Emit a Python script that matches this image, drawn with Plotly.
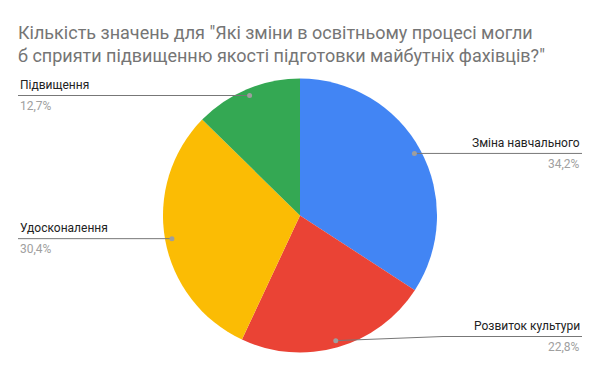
import math
import plotly.graph_objects as go

# ---- data ----
labels = ["Зміна навчального", "Розвиток культури", "Удосконалення", "Підвищення"]
counts = [27, 18, 24, 10]
colors = ["#4285F4", "#EA4335", "#FBBC04", "#34A853"]
title_text = ('Кількість значень для "Які зміни в освітньому процесі могли<br>'
              'б сприяти підвищенню якості підготовки майбутніх фахівців?"')

# ---- layout geometry (screen pixels) ----
W, H = 600, 371
OFF = 8  # page body margin
cx, cy, r = 300, 215.5, 137
dot_r = 0.95 * r
left_x, right_x = 18, 582
elbows = {1: (443, 336.5)}  # slanted leader for the red slice

total = sum(counts)
pct = [f"{100 * c / total:.1f}".replace(".", ",") + "%" for c in counts]

def px(x):
    return (x - OFF) / W

def py(y):
    return 1 - (y - OFF) / H

fig = go.Figure(go.Pie(
    labels=labels, values=counts, sort=False, direction="clockwise", rotation=0,
    marker=dict(colors=colors, line=dict(width=0)), textinfo="none",
    hoverinfo="label+percent", showlegend=False,
    domain=dict(x=[px(cx - r), px(cx + r)], y=[py(cy + r), py(cy - r)]),
))

shapes, annotations = [], []
cum = 0
for i, c in enumerate(counts):
    mid = (cum + c / 2) / total * 2 * math.pi
    cum += c
    dx, dy = cx + dot_r * math.sin(mid), cy - dot_r * math.cos(mid)
    right = dx > cx
    end_x = right_x if right else left_x
    if i in elbows:
        ex, ey = elbows[i]
        shapes.append(dict(type="line", xref="paper", yref="paper",
                           x0=px(dx), y0=py(dy), x1=px(ex), y1=py(ey),
                           line=dict(color="#777777", width=1)))
        line_y, start_x = ey, ex
    else:
        line_y, start_x = dy, dx
    shapes.append(dict(type="line", xref="paper", yref="paper",
                       x0=px(start_x), y0=py(line_y), x1=px(end_x), y1=py(line_y),
                       line=dict(color="#777777", width=1)))
    shapes.append(dict(type="circle", xref="paper", yref="paper",
                       x0=px(dx - 2.5), x1=px(dx + 2.5), y0=py(dy + 2.5), y1=py(dy - 2.5),
                       fillcolor="#9E9E9E", line=dict(width=0)))
    anchor = "right" if right else "left"
    annotations.append(dict(xref="paper", yref="paper", x=px(end_x), y=py(line_y - 1.5),
                            text=labels[i], showarrow=False,
                            xanchor=anchor, yanchor="bottom",
                            font=dict(family="Roboto", size=12, color="#222222")))
    annotations.append(dict(xref="paper", yref="paper", x=px(end_x), y=py(line_y + 1.5),
                            text=pct[i], showarrow=False, xanchor=anchor, yanchor="top",
                            font=dict(family="Roboto", size=12, color="#A0A0A0")))

annotations.append(dict(xref="paper", yref="paper", x=px(left_x - 2), y=py(20),
                        text=title_text, showarrow=False, xanchor="left", yanchor="top",
                        align="left",
                        font=dict(family="Roboto", size=18, color="#757575")))

fig.update_layout(width=W, height=H, autosize=False,
                  margin=dict(l=0, r=0, t=0, b=0),
                  paper_bgcolor="white", plot_bgcolor="white",
                  shapes=shapes, annotations=annotations)

fig.write_html("out.html")
